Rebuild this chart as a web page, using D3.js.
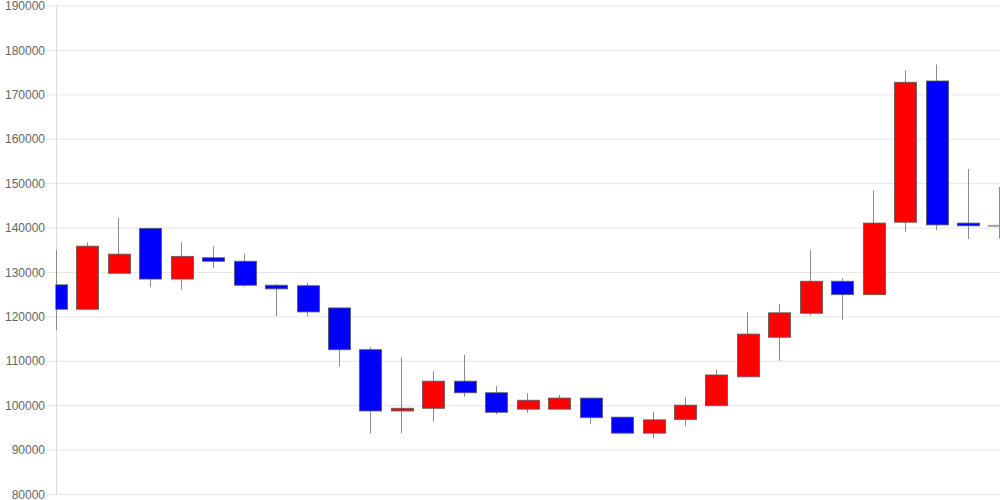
<!DOCTYPE html>
<html>
<head>
<meta charset="utf-8">
<script src="https://cdn.jsdelivr.net/npm/d3@7"></script>
<style>
  html, body { margin: 0; padding: 0; background: #fff; }
  svg { display: block; }
</style>
</head>
<body>
<div id="chart"></div>
<script>
// ---- data ----
const categories = d3.range(1, 32).map(d => "D" + d);
const openVals  = [127100,121600,129700,139800,128400,133200,132400,127000,126900,121900,112500,98700,99300,105400,102800,99100,99100,101600,97300,93700,96800,99900,106400,115300,120700,127900,124900,141200,173000,141000,140500];
const highVals  = [135000,136600,142200,139900,136700,135800,134100,127300,127500,121900,113000,110800,107600,111300,104300,102700,102300,101600,97300,98500,101800,108000,121000,122800,135000,128600,148400,175400,176700,153200,149100];
const lowVals   = [117000,121500,129700,126600,126000,130900,126700,120000,120000,108700,93700,93700,96300,101900,98000,98300,99100,95800,93700,92500,95200,99900,106400,110000,120200,119200,124900,139000,139400,137400,137500];
const closeVals = [121600,135800,134000,128400,133500,132400,127000,126200,121000,112500,98700,99300,105400,102800,98400,101100,101600,97200,93700,96700,100000,106800,116000,120800,127900,124900,141000,172700,140600,140400,140500];
const yTicks = [80000,90000,100000,110000,120000,130000,140000,150000,160000,170000,180000,190000];

const data = categories.map((c, i) => ({
  cat: c, open: openVals[i], high: highVals[i], low: lowVals[i], close: closeVals[i]
}));

// ---- layout ----
const W = 1000, H = 500;
const mLeft = 56, mRight = 999.5, mTop = 5.5, mBottom = 494;

const svg = d3.select("#chart").append("svg").attr("width", W).attr("height", H);

const x = d3.scalePoint().domain(categories).range([mLeft, mRight]);
const y = d3.scaleLinear().domain([80000, 190000]).range([mBottom, mTop]);
const bodyW = x.step() * 0.7;

// grid lines + tick labels
const yAxis = d3.axisLeft(y).tickValues(yTicks).tickFormat(d3.format("d"))
  .tickSize(-(W - mLeft)).tickPadding(11);
const gAxis = svg.append("g").attr("transform", `translate(${mLeft},0)`).call(yAxis);
gAxis.select(".domain").remove();
gAxis.selectAll(".tick line")
  .attr("x1", -10).attr("stroke", "#e6e6e6").attr("stroke-width", 1);
gAxis.selectAll(".tick text")
  .attr("fill", "#666").attr("font-family", "'Liberation Sans', Arial, sans-serif")
  .attr("font-size", 12).attr("x", -11).attr("dy", "0.35em");

// vertical axis line
svg.append("line")
  .attr("x1", mLeft + 0.5).attr("x2", mLeft + 0.5)
  .attr("y1", mTop).attr("y2", mBottom)
  .attr("stroke", "#d9d9d9");

// clip to plot area
svg.append("defs").append("clipPath").attr("id", "plot")
  .append("rect").attr("x", mLeft - 0.5).attr("y", 0).attr("width", W - mLeft + 1).attr("height", mBottom + 1);

const g = svg.append("g").attr("clip-path", "url(#plot)");

// wicks
g.selectAll("line.wick").data(data).join("line")
  .attr("class", "wick")
  .attr("x1", d => Math.floor(x(d.cat)) + 0.5)
  .attr("x2", d => Math.floor(x(d.cat)) + 0.5)
  .attr("y1", d => y(d.high))
  .attr("y2", d => y(d.low))
  .attr("stroke", "#8a8a8a").attr("stroke-width", 1);

// bodies
g.selectAll("rect.body").data(data).join("rect")
  .attr("class", "body")
  .attr("x", d => Math.round(x(d.cat) - bodyW / 2) + 0.5)
  .attr("width", Math.round(bodyW))
  .attr("y", d => y(Math.max(d.open, d.close)))
  .attr("height", d => Math.max(1, Math.abs(y(d.open) - y(d.close))))
  .attr("fill", d => d.close > d.open ? "#ff0000" : (d.close < d.open ? "#0000ff" : "#999"))
  .attr("stroke", d => d.close === d.open ? "#999" : "#555")
  .attr("stroke-opacity", 0.8)
  .attr("stroke-width", 1);
</script>
</body>
</html>
